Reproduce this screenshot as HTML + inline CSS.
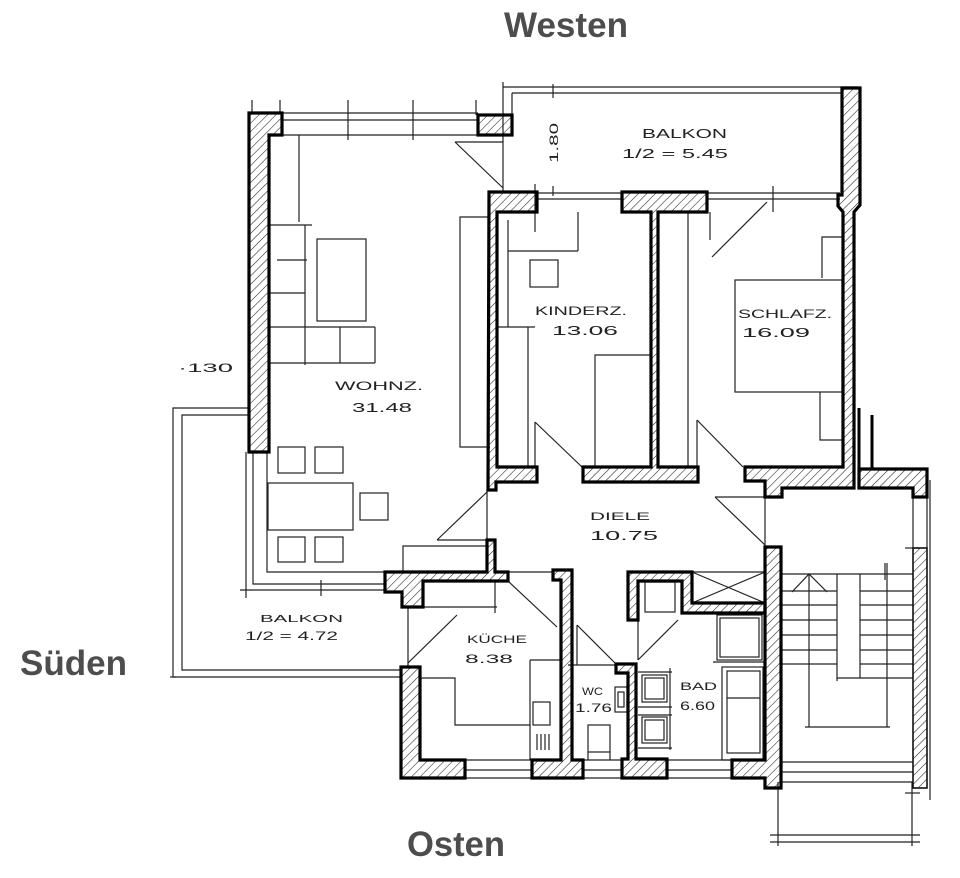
<!DOCTYPE html>
<html><head><meta charset="utf-8"><style>
html,body{margin:0;padding:0;background:#fff;}
svg{display:block;}
.w{fill:url(#h);stroke:#000;stroke-width:3.2;stroke-linejoin:miter;}
.wt{fill:url(#h);stroke:#111;stroke-width:1.6;}
.l{stroke:#222;stroke-width:1.2;fill:none;}
.big{font-family:"Liberation Sans",Arial,sans-serif;font-weight:bold;font-size:35px;fill:#4d4d4d;}
.hw{font-family:"Liberation Sans",Arial,sans-serif;font-size:12px;fill:#222;}
</style></head><body>
<svg width="960" height="878" viewBox="0 0 960 878" xmlns="http://www.w3.org/2000/svg">
<defs>
<pattern id="h" width="6" height="6" patternUnits="userSpaceOnUse" patternTransform="rotate(45)">
<line x1="0" y1="0" x2="0" y2="6" stroke="#222" stroke-width="1.1"/>
</pattern>
</defs>
<rect width="960" height="878" fill="#fff"/>

<!-- Big compass labels -->
<text class="big" x="504" y="37" textLength="124" lengthAdjust="spacingAndGlyphs">Westen</text>
<text class="big" x="20" y="675" textLength="107" lengthAdjust="spacingAndGlyphs">Süden</text>
<text class="big" x="407" y="856" textLength="98" lengthAdjust="spacingAndGlyphs">Osten</text>

<!-- ============ THIN LINES ============ -->
<g class="l">
<!-- top window Wohnz -->
<line x1="282" y1="113" x2="478" y2="113"/>
<line x1="282" y1="120" x2="478" y2="120"/>
<line x1="282" y1="135" x2="478" y2="135"/>
<line x1="348" y1="100" x2="348" y2="140"/>
<line x1="413" y1="100" x2="413" y2="140"/>
<line x1="252" y1="100" x2="252" y2="113"/>
<line x1="280" y1="100" x2="280" y2="113"/>
<line x1="476" y1="100" x2="476" y2="115"/>
<!-- west balcony -->
<line x1="503" y1="87" x2="858" y2="87"/>
<line x1="512" y1="93" x2="842" y2="93"/>
<line x1="503" y1="82" x2="503" y2="192"/>
<line x1="512" y1="93" x2="512" y2="115"/>
<!-- Wohnz door to balcony -->
<line x1="455" y1="142" x2="503" y2="142"/>
<line x1="455" y1="142" x2="503" y2="188"/>
<!-- window lines Kinderz / Schlafz west -->
<line x1="537" y1="193" x2="622" y2="193"/>
<line x1="537" y1="199" x2="622" y2="199"/>
<line x1="535" y1="184" x2="535" y2="232"/>
<line x1="578" y1="212" x2="578" y2="251"/>
<line x1="707" y1="193" x2="840" y2="193"/>
<line x1="707" y1="199" x2="840" y2="199"/>
<line x1="773" y1="186" x2="773" y2="212"/>
<line x1="767" y1="202" x2="712" y2="257"/>
<line x1="710" y1="212" x2="710" y2="240"/>
<!-- dimension 1.80 -->
<line x1="553" y1="84" x2="553" y2="98"/>
<line x1="553" y1="186" x2="553" y2="196"/>

<!-- Wohnz furniture -->
<line x1="299" y1="135" x2="299" y2="222"/>
<line x1="270" y1="225" x2="312" y2="225"/>
<line x1="305" y1="225" x2="305" y2="365"/>
<line x1="277" y1="260" x2="307" y2="260"/>
<line x1="270" y1="293" x2="305" y2="293"/>
<line x1="270" y1="327" x2="375" y2="327"/>
<line x1="270" y1="363" x2="375" y2="363"/>
<line x1="340" y1="327" x2="340" y2="363"/>
<line x1="375" y1="327" x2="375" y2="363"/>
<rect x="317" y="239" width="49" height="82"/>
<!-- cabinet right side Wohnz -->
<polyline points="490,217 460,217 460,447 490,447"/>

<!-- terrace south -->
<polyline points="248,408 173,408 173,677 402,677"/>
<polyline points="248,415 182,415 182,670 402,670"/>
<line x1="170" y1="677" x2="176" y2="677"/>
<!-- Wohnz bottom-left window lines -->
<polyline points="253,452 253,584 385,584"/>
<polyline points="267,452 267,572 385,572"/>
<line x1="240" y1="590" x2="385" y2="590"/>
<line x1="246" y1="452" x2="246" y2="598"/>
<line x1="321" y1="580" x2="321" y2="596"/>
<!-- dining -->
<rect x="278" y="447" width="27" height="26"/>
<rect x="315" y="447" width="28" height="26"/>
<rect x="268" y="483" width="85" height="47"/>
<rect x="360" y="493" width="28" height="27"/>
<rect x="278" y="537" width="27" height="25"/>
<rect x="315" y="537" width="28" height="25"/>
<!-- rect above kitchen wall -->
<polyline points="403,572 403,546 487,546"/>

<!-- Wohnz -> Diele door -->
<line x1="487" y1="490" x2="487" y2="540"/>
<line x1="437" y1="540" x2="487" y2="540"/>
<line x1="487" y1="492" x2="437" y2="540"/>

<!-- Kinderz furniture -->
<polyline points="508,220 508,251 578,251"/>
<line x1="508" y1="251" x2="508" y2="327"/>
<rect x="530" y="260" width="28" height="27"/>
<line x1="498" y1="327" x2="535" y2="327"/>
<line x1="528" y1="327" x2="528" y2="467"/>
<polyline points="595,467 595,355 651,355"/>
<!-- Kinderz door -->
<line x1="535" y1="422" x2="535" y2="467"/>
<line x1="535" y1="422" x2="582" y2="467"/>

<!-- Schlafz furniture -->
<line x1="688" y1="212" x2="688" y2="467"/>
<rect x="735" y="280" width="107" height="112"/>
<polyline points="822,278 822,237 842,237"/>
<polyline points="820,392 820,440 842,440"/>
<!-- Schlafz door -->
<line x1="697" y1="420" x2="697" y2="467"/>
<line x1="697" y1="420" x2="743" y2="467"/>

<!-- Diele -> stair door -->
<line x1="715" y1="497" x2="765" y2="497"/>
<line x1="715" y1="497" x2="765" y2="545"/>
<line x1="765" y1="490" x2="765" y2="547"/>

<!-- Kueche door -->
<line x1="508" y1="581" x2="557" y2="627"/>
<line x1="508" y1="572" x2="553" y2="572"/>
<line x1="495" y1="582" x2="495" y2="613"/>
<line x1="423" y1="607" x2="497" y2="607"/>
<!-- balcony -> kueche door -->
<line x1="408" y1="607" x2="408" y2="667"/>
<line x1="457" y1="615" x2="408" y2="663"/>
<!-- Kueche furniture -->
<polyline points="420,678 455,678 455,725 530,725"/>
<line x1="530" y1="660" x2="530" y2="760"/>
<line x1="530" y1="660" x2="560" y2="660"/>
<rect x="533" y="702" width="17" height="23"/>
<line x1="537" y1="734" x2="537" y2="750"/>
<line x1="541" y1="734" x2="541" y2="750"/>
<line x1="545" y1="734" x2="545" y2="750"/>
<line x1="549" y1="734" x2="549" y2="750"/>
<!-- windows east -->
<line x1="465" y1="760" x2="532" y2="760"/>
<line x1="465" y1="770" x2="532" y2="770"/>
<line x1="465" y1="778" x2="532" y2="778"/>
<line x1="582" y1="760" x2="622" y2="760"/>
<line x1="582" y1="770" x2="622" y2="770"/>
<line x1="582" y1="778" x2="622" y2="778"/>
<line x1="667" y1="760" x2="732" y2="760"/>
<line x1="667" y1="770" x2="732" y2="770"/>
<line x1="667" y1="778" x2="732" y2="778"/>

<!-- WC door -->
<line x1="577" y1="625" x2="577" y2="665"/>
<line x1="577" y1="625" x2="617" y2="665"/>
<line x1="568" y1="665" x2="615" y2="665"/>
<!-- Bad door -->
<line x1="638" y1="620" x2="638" y2="660"/>
<line x1="678" y1="620" x2="638" y2="660"/>
<!-- shaft X -->
<line x1="692" y1="572" x2="765" y2="572"/>
<line x1="692" y1="572" x2="765" y2="603"/>
<line x1="692" y1="603" x2="765" y2="572"/>
<rect x="645" y="582" width="30" height="30"/>
<!-- WC fixtures -->
<rect x="615" y="687" width="12" height="25"/>
<rect x="618" y="692" width="6" height="15"/>
<rect x="588" y="725" width="22" height="27"/>
<line x1="588" y1="752" x2="588" y2="760"/>
<line x1="610" y1="752" x2="610" y2="760"/>
<!-- Bad fixtures -->
<line x1="638" y1="672" x2="672" y2="672"/>
<line x1="638" y1="707" x2="672" y2="707"/>
<line x1="638" y1="715" x2="672" y2="715"/>
<line x1="638" y1="748" x2="672" y2="748"/>
<line x1="670" y1="668" x2="670" y2="750"/>
<rect x="642" y="675" width="25" height="27"/>
<rect x="645" y="678" width="19" height="21"/>
<rect x="642" y="717" width="25" height="26"/>
<rect x="645" y="720" width="19" height="20"/>
<rect x="717" y="615" width="45" height="45"/>
<rect x="720" y="618" width="39" height="39"/>
<line x1="713" y1="662" x2="765" y2="662"/>
<rect x="722" y="667" width="41" height="93"/>
<rect x="727" y="671" width="33" height="82"/>
<line x1="727" y1="698" x2="760" y2="698"/>

<!-- Stair -->
<line x1="782" y1="574" x2="913" y2="574"/>
<line x1="782" y1="591" x2="837" y2="591"/>
<line x1="782" y1="605" x2="837" y2="605"/>
<line x1="782" y1="620" x2="837" y2="620"/>
<line x1="782" y1="635" x2="837" y2="635"/>
<line x1="782" y1="650" x2="837" y2="650"/>
<line x1="782" y1="664" x2="837" y2="664"/>
<line x1="860" y1="591" x2="913" y2="591"/>
<line x1="860" y1="605" x2="913" y2="605"/>
<line x1="860" y1="620" x2="913" y2="620"/>
<line x1="860" y1="635" x2="913" y2="635"/>
<line x1="860" y1="650" x2="913" y2="650"/>
<line x1="860" y1="664" x2="913" y2="664"/>
<line x1="837" y1="678" x2="913" y2="678"/>
<line x1="837" y1="574" x2="837" y2="681"/>
<line x1="860" y1="574" x2="860" y2="678"/>
<line x1="809" y1="574" x2="809" y2="727"/>
<line x1="887" y1="563" x2="887" y2="727"/>
<line x1="885" y1="563" x2="885" y2="580"/>
<line x1="805" y1="727" x2="890" y2="727"/>
<polyline points="792,592 809,574 827,592"/>
<line x1="782" y1="762" x2="913" y2="762"/>
<line x1="782" y1="772" x2="913" y2="772"/>
<line x1="782" y1="782" x2="913" y2="782"/>
<line x1="770" y1="835" x2="920" y2="835"/>
<line x1="770" y1="842" x2="920" y2="842"/>
<line x1="778" y1="782" x2="778" y2="846"/>
<line x1="912" y1="782" x2="912" y2="846"/>
<line x1="913" y1="497" x2="913" y2="548"/>
<line x1="927" y1="497" x2="927" y2="548"/>
<line x1="930" y1="480" x2="930" y2="800"/>
<line x1="905" y1="548" x2="920" y2="548"/>
<line x1="905" y1="793" x2="920" y2="793"/>
</g>

<!-- ============ WALLS ============ -->
<polygon class="w" points="249,113 282,113 282,135 269,135 269,452 249,452"/>
<rect class="w" x="478" y="115" width="34" height="20"/>
<polygon class="w" points="489,192 537,192 537,212 497,212 497,467 537,467 537,482 496,482 496,490 488,490"/>
<polygon class="w" points="622,192 707,192 707,212 658,212 658,467 698,467 698,482 583,482 583,467 651,467 651,212 622,212"/>
<polygon class="w" points="842,88 860,88 860,205 854,212 854,488 782,488 782,497 765,497 765,481 745,481 745,467 843,467 843,212 838,206 838,195 842,195"/>
<line x1="859" y1="408" x2="859" y2="489" stroke="#000" stroke-width="3"/>
<line x1="872" y1="415" x2="872" y2="470" stroke="#000" stroke-width="3"/>
<polygon class="w" points="872,469 927,469 927,497 913,497 913,488 859,488 859,469"/>
<polygon class="w" points="385,572 487,572 487,540 495,540 495,572 508,572 508,581 423,581 423,607 402,607 402,592 385,592"/>
<polygon class="w" points="401,667 420,667 420,760 465,760 465,778 401,778"/>
<polygon class="w" points="553,570 572,570 572,760 583,760 583,778 532,778 532,760 561,760 561,580 553,580"/>
<polygon class="w" points="616,664 636,664 636,759 667,759 667,778 622,778 622,759 628,759 628,673 616,673"/>
<polygon class="w" points="628,572 692,572 692,603 765,603 765,613 682,613 682,581 638,581 638,620 628,620"/>
<polygon class="w" points="765,547 781,547 781,788 765,788 765,778 732,778 732,760 765,760"/>
<rect class="wt" x="913" y="548" width="14" height="240"/>

<!-- ============ HANDWRITTEN LABELS ============ -->
<g class="hw">
<text x="642" y="138" font-size="13" textLength="85" lengthAdjust="spacingAndGlyphs">BALKON</text>
<text x="622" y="158" font-size="13" textLength="106" lengthAdjust="spacingAndGlyphs">1/2 = 5.45</text>
<text x="535" y="315" font-size="12" textLength="92" lengthAdjust="spacingAndGlyphs">KINDERZ.</text>
<text x="552" y="335" font-size="13" textLength="66" lengthAdjust="spacingAndGlyphs">13.06</text>
<text x="738" y="318" font-size="12" textLength="94" lengthAdjust="spacingAndGlyphs">SCHLAFZ.</text>
<text x="742" y="337" font-size="13" textLength="68" lengthAdjust="spacingAndGlyphs">16.09</text>
<text x="335" y="390" font-size="12" textLength="88" lengthAdjust="spacingAndGlyphs">WOHNZ.</text>
<text x="352" y="412" font-size="13" textLength="60" lengthAdjust="spacingAndGlyphs">31.48</text>
<text x="178" y="372" font-size="12" textLength="55" lengthAdjust="spacingAndGlyphs">·130</text>
<text x="590" y="520" font-size="11" textLength="60" lengthAdjust="spacingAndGlyphs">DIELE</text>
<text x="590" y="540" font-size="13" textLength="68" lengthAdjust="spacingAndGlyphs">10.75</text>
<text x="260" y="622" font-size="10" textLength="83" lengthAdjust="spacingAndGlyphs">BALKON</text>
<text x="245" y="640" font-size="12" textLength="93" lengthAdjust="spacingAndGlyphs">1/2 = 4.72</text>
<text x="467" y="643" font-size="11" textLength="60" lengthAdjust="spacingAndGlyphs">KÜCHE</text>
<text x="465" y="663" font-size="12" textLength="48" lengthAdjust="spacingAndGlyphs">8.38</text>
<text x="582" y="695" font-size="11" textLength="21" lengthAdjust="spacingAndGlyphs">WC</text>
<text x="575" y="712" font-size="12" textLength="37" lengthAdjust="spacingAndGlyphs">1.76</text>
<text x="680" y="690" font-size="11" textLength="37" lengthAdjust="spacingAndGlyphs">BAD</text>
<text x="680" y="710" font-size="12" textLength="35" lengthAdjust="spacingAndGlyphs">6.60</text>
<text x="0" y="0" font-size="12" transform="translate(558,163) rotate(-90)" textLength="40" lengthAdjust="spacingAndGlyphs">1.80</text>
</g>
</svg>
</body></html>
